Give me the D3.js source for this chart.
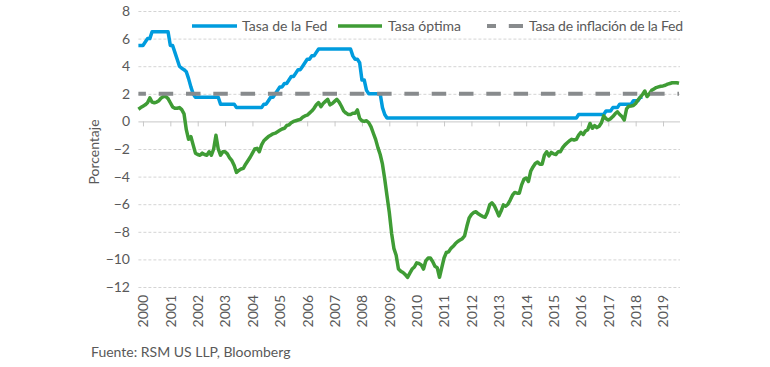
<!DOCTYPE html>
<html><head><meta charset="utf-8">
<script src="https://cdn.jsdelivr.net/npm/d3@7"></script>
<style>
body{margin:0;background:#fff}
svg{display:block}
text{font-family:Lato,"Open Sans",sans-serif}
</style>
</head><body>
<svg id="chart" width="770" height="367"></svg>
<script>
// Monthly data, first value = Nov 1999 (month offset -2 from Jan 2000)
const firstOffset = -2;
const yearLabels = ["2000","2001","2002","2003","2004","2005","2006","2007","2008","2009",
  "2010","2011","2012","2013","2014","2015","2016","2017","2018","2019"];
const yTicks = [-12,-10,-8,-6,-4,-2,0,2,4,6,8];
const seriesNames = ["Tasa de la Fed","Tasa óptima","Tasa de inflación de la Fed"];

const fedRate = [
  5.5, 5.5,
  5.5, 5.75, 6.0, 6.0, 6.5, 6.5, 6.5, 6.5, 6.5, 6.5, 6.5, 6.5,
  5.5, 5.5, 5.0, 4.5, 4.0, 3.85, 3.75, 3.6, 3.1, 2.5, 2.0, 1.75,
  1.75, 1.75, 1.75, 1.75, 1.75, 1.75, 1.75, 1.75, 1.75, 1.75, 1.25, 1.25,
  1.25, 1.25, 1.25, 1.25, 1.25, 1.0, 1.0, 1.0, 1.0, 1.0, 1.0, 1.0,
  1.0, 1.0, 1.0, 1.0, 1.0, 1.25, 1.25, 1.5, 1.75, 1.75, 2.0, 2.25,
  2.5, 2.5, 2.75, 2.75, 3.0, 3.25, 3.25, 3.5, 3.75, 3.75, 4.0, 4.25,
  4.5, 4.5, 4.75, 4.75, 5.0, 5.25, 5.25, 5.25, 5.25, 5.25, 5.25, 5.25,
  5.25, 5.25, 5.25, 5.25, 5.25, 5.25, 5.25, 5.25, 4.75, 4.5, 4.5, 4.25,
  3.0, 3.0, 2.25, 2.0, 2.0, 2.0, 2.0, 2.0, 2.0, 1.0, 0.5, 0.25,
  0.25, 0.25, 0.25, 0.25, 0.25, 0.25, 0.25, 0.25, 0.25, 0.25, 0.25, 0.25,
  0.25, 0.25, 0.25, 0.25, 0.25, 0.25, 0.25, 0.25, 0.25, 0.25, 0.25, 0.25,
  0.25, 0.25, 0.25, 0.25, 0.25, 0.25, 0.25, 0.25, 0.25, 0.25, 0.25, 0.25,
  0.25, 0.25, 0.25, 0.25, 0.25, 0.25, 0.25, 0.25, 0.25, 0.25, 0.25, 0.25,
  0.25, 0.25, 0.25, 0.25, 0.25, 0.25, 0.25, 0.25, 0.25, 0.25, 0.25, 0.25,
  0.25, 0.25, 0.25, 0.25, 0.25, 0.25, 0.25, 0.25, 0.25, 0.25, 0.25, 0.25,
  0.25, 0.25, 0.25, 0.25, 0.25, 0.25, 0.25, 0.25, 0.25, 0.25, 0.25, 0.5,
  0.5, 0.5, 0.5, 0.5, 0.5, 0.5, 0.5, 0.5, 0.5, 0.5, 0.5, 0.75,
  0.75, 0.75, 1.0, 1.0, 1.0, 1.25, 1.25, 1.25, 1.25, 1.25, 1.25, 1.5,
  1.5, 1.5, 1.75, 1.75
];

const optimalRate = [
  0.88, 1.0,
  1.1, 1.2, 1.35, 1.7, 1.4, 1.35, 1.4, 1.5, 1.7, 1.8, 1.8, 1.65,
  1.35, 1.05, 0.95, 0.95, 1.0, 0.85, 0.55, -0.6, -1.3, -1.1, -1.7, -2.3,
  -2.4, -2.45, -2.3, -2.4, -2.45, -2.2, -2.45, -2.0, -1.0, -2.0, -2.45, -2.2,
  -2.2, -2.35, -2.65, -2.85, -3.2, -3.7, -3.55, -3.45, -3.4, -3.1, -2.85, -2.6,
  -2.3, -2.0, -1.95, -2.2, -1.7, -1.4, -1.25, -1.1, -1.0, -0.9, -0.85, -0.75,
  -0.65, -0.55, -0.5, -0.3, -0.25, -0.1, 0.0, 0.05, 0.1, 0.15, 0.3, 0.4,
  0.45, 0.6, 0.75, 0.95, 1.2, 1.36, 1.07, 1.3, 1.45, 1.6, 1.2, 1.3,
  1.45, 1.6, 1.4, 1.1, 0.75, 0.6, 0.5, 0.5, 0.59, 0.59, 0.83, 0.22,
  0.05, 0.0, 0.05, -0.1, -0.4, -0.86, -1.3, -1.9, -2.4, -3.1, -4.2, -5.4,
  -6.6, -8.1, -9.2, -9.7, -10.7, -10.85, -10.95, -11.1, -11.3, -11.0, -10.7, -10.55,
  -10.25, -10.3, -10.4, -10.7, -10.1, -9.9, -9.9, -10.15, -10.5, -10.6, -11.3, -10.6,
  -9.9, -9.5, -9.45, -9.2, -9.05, -8.85, -8.7, -8.6, -8.5, -8.3, -7.6, -7.0,
  -6.75, -6.6, -6.55, -6.7, -6.8, -6.9, -6.95, -6.6, -6.05, -5.9, -6.1, -6.45,
  -6.85, -6.5, -6.05, -6.15, -6.0, -5.7, -5.35, -5.15, -5.2, -5.2, -4.6, -4.2,
  -4.1, -4.35, -3.6, -3.3, -3.05, -2.95, -3.1, -3.1, -2.45, -2.2, -2.5, -2.25,
  -2.35, -2.4, -2.2, -2.2, -1.9, -1.7, -1.55, -1.4, -1.3, -1.35, -1.3, -1.0,
  -0.8, -0.95, -0.7, -0.6, -0.15, -0.5, -0.3, -0.45, -0.35, -0.1, 0.4, 0.2,
  0.1, 0.2, 0.35, 0.55, 0.7, 0.5, 0.35, 0.1, 0.9, 1.1, 1.12, 1.15,
  1.3, 1.55, 1.75, 1.95, 2.2, 1.8, 2.0, 2.25, 2.35, 2.45, 2.5, 2.55,
  2.57, 2.62, 2.7, 2.75, 2.8, 2.8, 2.8, 2.76
];

const inflationTarget = 2;

const colors = {fed:"#009CDE", opt:"#3F9C35", infl:"#888B8D", text:"#595959", grid:"#d4d4d4", axis:"#c8c8c8"};

const svg = d3.select("#chart");
const lastOffset = firstOffset + optimalRate.length - 1;
const xLeft = 138.4, xRight = 679;
const x = d3.scaleLinear().domain([firstOffset, lastOffset]).range([xLeft, xRight]);
const y = d3.scaleLinear().domain([-12, 8]).range([287, 11]);

// gridlines
const grid = svg.append("g").attr("transform", `translate(${xLeft},0)`)
  .call(d3.axisLeft(y).tickValues(yTicks.filter(v => v !== 0)).tickSize(-(xRight + 1 - xLeft)).tickFormat(""));
grid.select(".domain").remove();
grid.selectAll("line").attr("stroke", colors.grid).attr("stroke-dasharray", "3,2").attr("stroke-width", 1);

// y labels
const yAx = svg.append("g").attr("transform", "translate(130,0)")
  .call(d3.axisLeft(y).tickValues(yTicks).tickSize(0).tickPadding(0).tickFormat(d3.format("d")));
yAx.select(".domain").remove();
yAx.selectAll("text").attr("font-size", 14).attr("fill", colors.text).style("font-family", "Lato");

// zero axis with ticks
const yearTicks = yearLabels.map((_, k) => k * 12);
const xAx = svg.append("g").attr("transform", `translate(0,${y(0)})`)
  .call(d3.axisBottom(x).tickValues(yearTicks).tickSize(5).tickSizeOuter(0).tickFormat(""));
xAx.select(".domain").attr("stroke", colors.axis).attr("d", `M${xLeft},0.5H${xRight + 1}`);
xAx.selectAll(".tick line").attr("stroke", colors.axis);

// x labels rotated at bottom
const xLab = svg.append("g").attr("transform", "translate(0,287)")
  .call(d3.axisBottom(x).tickValues(yearTicks).tickSize(0).tickFormat((d, i) => yearLabels[i]));
xLab.select(".domain").remove();
xLab.selectAll("text")
  .attr("transform", "rotate(-90)")
  .attr("x", -8).attr("y", 0).attr("dy", "0.35em")
  .attr("text-anchor", "end")
  .attr("font-size", 14).attr("fill", colors.text).style("font-family", "Lato");

// y title
svg.append("text").attr("transform", "translate(93.5,152) rotate(-90)")
  .attr("text-anchor", "middle").attr("dominant-baseline", "central")
  .attr("font-size", 14).attr("fill", colors.text).text("Porcentaje");

// lines
const line = d3.line().x((d, i) => x(firstOffset + i)).y(d => y(d));
svg.append("path").datum(fedRate).attr("d", line)
  .attr("fill", "none").attr("stroke", colors.fed).attr("stroke-width", 3.5).attr("stroke-linejoin", "round");
svg.append("path").datum(optimalRate).attr("d", line)
  .attr("fill", "none").attr("stroke", colors.opt).attr("stroke-width", 3.5).attr("stroke-linejoin", "round");
const inflSeries = [[firstOffset, inflationTarget], [lastOffset, inflationTarget]];
svg.append("path").datum(inflSeries)
  .attr("d", d3.line().x(d => x(d[0])).y(d => y(d[1])))
  .attr("fill", "none").attr("stroke", colors.infl).attr("stroke-width", 4)
  .attr("stroke-dasharray", "14.5,12.8").attr("stroke-dashoffset", 7);

// legend
const legY = 26;
const leg = svg.append("g");
leg.append("line").attr("x1", 192).attr("x2", 237).attr("y1", legY).attr("y2", legY)
  .attr("stroke", colors.fed).attr("stroke-width", 3.5);
leg.append("text").attr("x", 242).attr("y", legY).attr("dy", "0.35em")
  .attr("font-size", 14).attr("fill", colors.text).text(seriesNames[0]);
leg.append("line").attr("x1", 338).attr("x2", 382).attr("y1", legY).attr("y2", legY)
  .attr("stroke", colors.opt).attr("stroke-width", 3.5);
leg.append("text").attr("x", 388).attr("y", legY).attr("dy", "0.35em")
  .attr("font-size", 14).attr("fill", colors.text).text(seriesNames[1]);
leg.append("line").attr("x1", 487).attr("x2", 523).attr("y1", legY).attr("y2", legY)
  .attr("stroke", colors.infl).attr("stroke-width", 4)
  .attr("stroke-dasharray", "14.5,12.8").attr("stroke-dashoffset", 5.5);
leg.append("text").attr("x", 529).attr("y", legY).attr("dy", "0.35em")
  .attr("font-size", 14).attr("fill", colors.text)
  .attr("textLength", 154).attr("lengthAdjust", "spacing").text(seriesNames[2]);

// source
svg.append("text").attr("x", 91).attr("y", 357)
  .attr("font-size", 14).attr("fill", colors.text).text("Fuente: RSM US LLP, Bloomberg");
</script>
</body></html>
